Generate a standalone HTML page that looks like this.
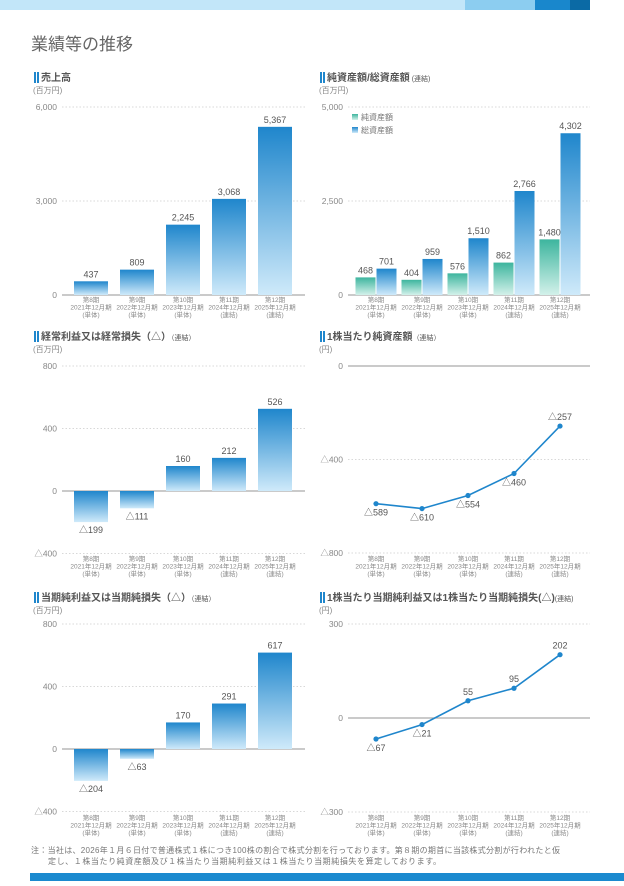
<!DOCTYPE html>
<html><head><meta charset="utf-8"><style>
html,body{margin:0;padding:0;background:#fff;}
body{width:624px;height:881px;overflow:hidden;font-family:"Liberation Sans","Noto Sans CJK JP",sans-serif;}
svg text{font-family:"Liberation Sans","Noto Sans CJK JP",sans-serif;}
</style></head><body>
<svg id="pg" width="624" height="881" viewBox="0 0 624 881" xmlns="http://www.w3.org/2000/svg">
<defs>
<linearGradient id="gb" x1="0" y1="0" x2="0" y2="1"><stop offset="0" stop-color="#1f86cc"/><stop offset="1" stop-color="#cfeafa"/></linearGradient>
<linearGradient id="gt" x1="0" y1="0" x2="0" y2="1"><stop offset="0" stop-color="#3db59e"/><stop offset="1" stop-color="#d3f1ea"/></linearGradient>
</defs>
<rect x="0" y="0" width="590" height="10" fill="#c2e6f9"/>
<rect x="465" y="0" width="70" height="10" fill="#8ccdf0"/>
<rect x="535" y="0" width="35" height="10" fill="#1987cc"/>
<rect x="570" y="0" width="20" height="10" fill="#0b6aa5"/>
<text x="31" y="50" font-size="17" fill="#666">業績等の推移</text>
<rect x="30" y="873" width="594" height="8" fill="#1b8acf"/>
<text x="31" y="853" font-size="8" fill="#777" textLength="529" lengthAdjust="spacing">注：当社は、2026年１月６日付で普通株式１株につき100株の割合で株式分割を行っております。第８期の期首に当該株式分割が行われたと仮</text>
<text x="48" y="864" font-size="8" fill="#777" textLength="393" lengthAdjust="spacing">定し、１株当たり純資産額及び１株当たり当期純利益又は１株当たり当期純損失を算定しております。</text>
<g id="charts"></g>
</svg>
<script>
const categories1=["第8期","第9期","第10期","第11期","第12期"];
const categories2=["2021年12月期","2022年12月期","2023年12月期","2024年12月期","2025年12月期"];
const categories3=["(単体)","(単体)","(単体)","(連結)","(連結)"];
const sales=[437,809,2245,3068,5367];
const netAssets=[468,404,576,862,1480];
const totalAssets=[701,959,1510,2766,4302];
const ordinaryIncome=[-199,-111,160,212,526];
const bpsValues=[-589,-610,-554,-460,-257];
const netIncome=[-204,-63,170,291,617];
const epsValues=[-67,-21,55,95,202];
const ticks1=[0,3000,6000];
const ticks2=[0,2500,5000];
const ticks3=[-400,0,400,800];
const ticks4=[-800,-400,0];
const ticks5=[-400,0,400,800];
const ticks6=[-300,0,300];

const NS="http://www.w3.org/2000/svg";
const root=document.getElementById('charts');
function mk(tag,attrs,parent){const e=document.createElementNS(NS,tag);for(const k in attrs)e.setAttribute(k,attrs[k]);(parent||root).appendChild(e);return e;}
function fmt(v){const s=Math.abs(v).toLocaleString('en-US');return v<0?'△'+s:s;}

function chart(o){
  const g=mk('g',{});
  
  
  const bar1=mk('rect',{x:o.x0-28,y:o.ty-9,width:2,height:11,fill:'#1f86cc'},g);
  
  const bar2=mk('rect',{x:o.x0-25,y:o.ty-9,width:2,height:11,fill:'#1f86cc'},g);
  
  const t=mk('text',{x:o.x0-21,y:o.ty,'font-size':10,'font-weight':'bold',fill:'#555'},g);
  t.textContent=o.title;
  
  if(o.sub){const ts=mk('tspan',{'font-size':7,'font-weight':'normal'},t);ts.textContent=o.sub;}
  const u=mk('text',{x:o.x0-29,y:o.ty+12,'font-size':8,fill:'#888'},g);
  u.textContent=o.unit;
  
  const ys=v=>o.yZero-(v/o.vRef)*(o.yZero-o.yRef);
  o.ticks.forEach(tv=>{
    const y=ys(tv);
    const ln=mk('line',{x1:o.x0,x2:o.x1,y1:y,y2:y,stroke:tv===0?'#aaa':'#ccc','stroke-width':tv===0?1.2:0.8,'stroke-dasharray':tv===0?'':'1.5,2'},g);
    
    const tl=mk('text',{x:o.x0-5,y:y+3,'font-size':8.5,fill:'#888','text-anchor':'end'},g);
    tl.textContent=fmt(tv);
    
  });
  const xs=i=>o.cx0+i*46;
  categories1.forEach((c,i)=>{
    [c,categories2[i],categories3[i]].forEach((s,j)=>{
      const cl=mk('text',{x:xs(i),y:o.catY+j*7.5,'font-size':6.5,fill:'#888','text-anchor':'middle'},g);
      cl.textContent=s;
      
    });
  });
  function bars(vals,off,w,fill,nm){
    vals.forEach((v,i)=>{
      const y0=ys(0),y=ys(v);
      const r=mk('rect',{x:xs(i)+off-w/2,y:Math.min(y0,y),width:w,height:Math.abs(y0-y),fill:fill},g);
      
      const l=mk('text',{x:xs(i)+off,y:v>=0?y-4:y+11,'font-size':9,fill:'#555','text-anchor':'middle'},g);
      l.textContent=fmt(v);
      
    });
  }
  if(o.type==='bar') bars(o.vals,0,34,'url(#gb)','bar');
  if(o.type==='bar2'){bars(o.vals,-10.5,20,'url(#gt)','bar-net-assets');bars(o.vals2,10.5,20,'url(#gb)','bar-total-assets');}
  if(o.type==='line'){
    const pts=o.vals.map((v,i)=>xs(i)+','+ys(v)).join(' ');
    const pl=mk('polyline',{points:pts,fill:'none',stroke:'#1f86cc','stroke-width':1.6},g);
    
    o.vals.forEach((v,i)=>{
      const c=mk('circle',{cx:xs(i),cy:ys(v),r:2.6,fill:'#1f86cc'},g);
      
      const below=o.below[i];
      const l=mk('text',{x:xs(i),y:below?ys(v)+12:ys(v)-6,'font-size':9,fill:'#555','text-anchor':'middle'},g);
      l.textContent=fmt(v);
      
    });
  }
  if(o.legend){
    [['url(#gt)','純資産額'],['url(#gb)','総資産額']].forEach((e,k)=>{
      const lg=mk('g',{},g);
      
      mk('rect',{x:352,y:114+k*13,width:6,height:6,fill:e[0]},lg);
      const lt=mk('text',{x:361,y:120+k*13,'font-size':8,fill:'#777'},lg);lt.textContent=e[1];
    });
  }
}
const L={x0:62,x1:305,cx0:91}, R={x0:348,x1:590,cx0:376};
chart({name:'sales-chart',title:'売上高',unit:'(百万円)',ty:81,...L,ticks:ticks1,yZero:295,yRef:107,vRef:6000,catY:302,type:'bar',vals:sales});
chart({name:'assets-chart',title:'純資産額/総資産額',sub:' (連結)',unit:'(百万円)',ty:81,...R,ticks:ticks2,yZero:295,yRef:107,vRef:5000,catY:302,type:'bar2',vals:netAssets,vals2:totalAssets,legend:true});
chart({name:'ordinary-income-chart',title:'経常利益又は経常損失（△）',sub:'（連結）',unit:'(百万円)',ty:340,...L,ticks:ticks3,yZero:491,yRef:366,vRef:800,catY:561,type:'bar',vals:ordinaryIncome});
chart({name:'bps-chart',title:'1株当たり純資産額',sub:'（連結）',unit:'(円)',ty:340,...R,ticks:ticks4,yZero:366,yRef:553,vRef:-800,catY:561,type:'line',vals:bpsValues,below:[1,1,1,1,0]});
chart({name:'net-income-chart',title:'当期純利益又は当期純損失（△）',sub:'（連結）',unit:'(百万円)',ty:601,...L,ticks:ticks5,yZero:749,yRef:624,vRef:800,catY:820,type:'bar',vals:netIncome});
chart({name:'eps-chart',title:'1株当たり当期純利益又は1株当たり当期純損失(△)',sub:'(連結)',unit:'(円)',ty:601,...R,ticks:ticks6,yZero:718,yRef:624,vRef:300,catY:820,type:'line',vals:epsValues,below:[1,1,0,0,0]});
</script>
</body></html>
